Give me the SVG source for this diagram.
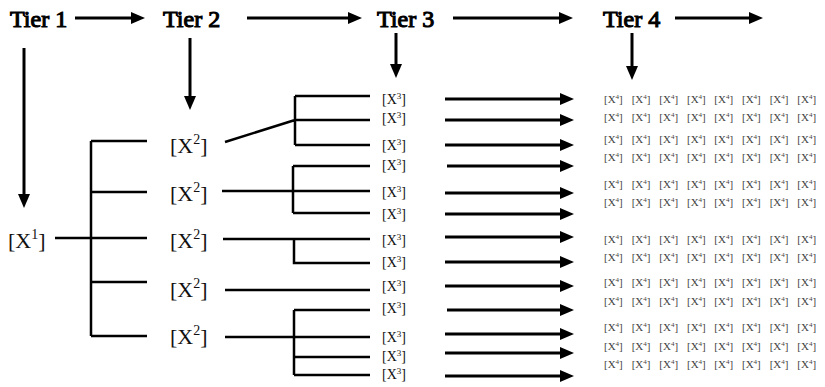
<svg xmlns="http://www.w3.org/2000/svg" width="825" height="387" viewBox="0 0 825 387">
<style>
.hd{font-family:"Liberation Serif","Times New Roman",serif;font-weight:normal;font-size:24px;fill:#000;stroke:#000;stroke-width:1.1}
.x1{font-family:"Liberation Serif","Times New Roman",serif;font-size:22px;fill:#111}
.x3{font-family:"Liberation Serif","Times New Roman",serif;font-size:14px;fill:#111}
.x4{font-family:"Liberation Serif","Times New Roman",serif;font-size:11px;fill:#444}
.ln{stroke:#000;stroke-width:2.5;fill:none}
.ar{stroke:#000;stroke-width:3;fill:none;marker-end:url(#ah)}
</style>
<defs>
<marker id="ah" markerWidth="14" markerHeight="12" viewBox="0 0 14 12" refX="1" refY="6" orient="auto" markerUnits="userSpaceOnUse"><path d="M0,0 L14,6 L0,12 z" fill="#000"/></marker>
</defs>
<rect width="825" height="387" fill="#fff"/>
<g id="headers">
<text class="hd" x="10" y="27">Tier 1</text>
<text class="hd" x="163" y="27">Tier 2</text>
<text class="hd" x="377" y="27">Tier 3</text>
<text class="hd" x="603" y="27">Tier 4</text>
</g>
<g id="connectors">
<line class="ar" x1="75" y1="18" x2="132" y2="18"/>
<line class="ar" x1="247" y1="18" x2="349" y2="18"/>
<line class="ar" x1="453" y1="18" x2="560" y2="18"/>
<line class="ar" x1="675" y1="18" x2="750" y2="18"/>
<line class="ar" x1="24" y1="48" x2="24" y2="195"/>
<line class="ar" x1="190" y1="38" x2="190" y2="97"/>
<line class="ar" x1="396" y1="33" x2="396" y2="65"/>
<line class="ar" x1="632" y1="33" x2="632" y2="67"/>
<path class="ln" d="M55,238 H91 M91,141 V336 M91,141 H147 M91,192 H147 M91,238 H147 M91,282 H147 M91,336 H147"/>
<path class="ln" d="M225,142 L295,120 M295,96 V145 M295,96 H370 M295,120 H370 M295,145 H370"/>
<path class="ln" d="M222,191 H370 M293,166 V213 M293,166 H370 M293,213 H370"/>
<path class="ln" d="M223,239 H370 M294,239 V263 H370"/>
<path class="ln" d="M225,290 H370"/>
<path class="ln" d="M225,337 H370 M294,310 V375 M294,310 H370 M294,357 H370 M294,375 H370"/>
<line class="ar" x1="445" y1="99" x2="561" y2="99"/>
<line class="ar" x1="445" y1="120" x2="561" y2="120"/>
<line class="ar" x1="445" y1="145" x2="561" y2="145"/>
<line class="ar" x1="447" y1="166" x2="561" y2="166"/>
<line class="ar" x1="445" y1="193" x2="561" y2="193"/>
<line class="ar" x1="445" y1="214" x2="561" y2="214"/>
<line class="ar" x1="445" y1="237" x2="561" y2="237"/>
<line class="ar" x1="445" y1="262" x2="561" y2="262"/>
<line class="ar" x1="445" y1="286" x2="561" y2="286"/>
<line class="ar" x1="447" y1="310" x2="561" y2="310"/>
<line class="ar" x1="445" y1="334" x2="561" y2="334"/>
<line class="ar" x1="445" y1="353" x2="561" y2="353"/>
<line class="ar" x1="445" y1="376" x2="561" y2="376"/>
</g>
<g id="tier1"><text class="x1" x="8" y="248">[X<tspan dy="-9" font-size="14">1</tspan><tspan dy="9">]</tspan></text></g>
<g id="tier2">
<text class="x1" x="170" y="153">[X<tspan dy="-9" font-size="14">2</tspan><tspan dy="9">]</tspan></text>
<text class="x1" x="170" y="201">[X<tspan dy="-9" font-size="14">2</tspan><tspan dy="9">]</tspan></text>
<text class="x1" x="170" y="248">[X<tspan dy="-9" font-size="14">2</tspan><tspan dy="9">]</tspan></text>
<text class="x1" x="170" y="297">[X<tspan dy="-9" font-size="14">2</tspan><tspan dy="9">]</tspan></text>
<text class="x1" x="170" y="344">[X<tspan dy="-9" font-size="14">2</tspan><tspan dy="9">]</tspan></text>
</g>
<g id="tier3">
<text class="x3" x="382" y="104">[X<tspan dy="-5" font-size="9">3</tspan><tspan dy="5">]</tspan></text>
<text class="x3" x="382" y="123">[X<tspan dy="-5" font-size="9">3</tspan><tspan dy="5">]</tspan></text>
<text class="x3" x="382" y="150">[X<tspan dy="-5" font-size="9">3</tspan><tspan dy="5">]</tspan></text>
<text class="x3" x="382" y="170">[X<tspan dy="-5" font-size="9">3</tspan><tspan dy="5">]</tspan></text>
<text class="x3" x="382" y="197">[X<tspan dy="-5" font-size="9">3</tspan><tspan dy="5">]</tspan></text>
<text class="x3" x="382" y="219">[X<tspan dy="-5" font-size="9">3</tspan><tspan dy="5">]</tspan></text>
<text class="x3" x="382" y="245">[X<tspan dy="-5" font-size="9">3</tspan><tspan dy="5">]</tspan></text>
<text class="x3" x="382" y="267">[X<tspan dy="-5" font-size="9">3</tspan><tspan dy="5">]</tspan></text>
<text class="x3" x="382" y="291">[X<tspan dy="-5" font-size="9">3</tspan><tspan dy="5">]</tspan></text>
<text class="x3" x="382" y="313">[X<tspan dy="-5" font-size="9">3</tspan><tspan dy="5">]</tspan></text>
<text class="x3" x="382" y="342">[X<tspan dy="-5" font-size="9">3</tspan><tspan dy="5">]</tspan></text>
<text class="x3" x="382" y="361">[X<tspan dy="-5" font-size="9">3</tspan><tspan dy="5">]</tspan></text>
<text class="x3" x="382" y="379">[X<tspan dy="-5" font-size="9">3</tspan><tspan dy="5">]</tspan></text>
</g>
<g id="tier4">
<defs>
<g id="r4">
<text class="x4" x="604" y="0">[X<tspan dy="-4" font-size="7">4</tspan><tspan dy="4">]</tspan></text>
<text class="x4" x="631.7" y="0">[X<tspan dy="-4" font-size="7">4</tspan><tspan dy="4">]</tspan></text>
<text class="x4" x="659.3" y="0">[X<tspan dy="-4" font-size="7">4</tspan><tspan dy="4">]</tspan></text>
<text class="x4" x="687" y="0">[X<tspan dy="-4" font-size="7">4</tspan><tspan dy="4">]</tspan></text>
<text class="x4" x="714.3" y="0">[X<tspan dy="-4" font-size="7">4</tspan><tspan dy="4">]</tspan></text>
<text class="x4" x="742" y="0">[X<tspan dy="-4" font-size="7">4</tspan><tspan dy="4">]</tspan></text>
<text class="x4" x="769.7" y="0">[X<tspan dy="-4" font-size="7">4</tspan><tspan dy="4">]</tspan></text>
<text class="x4" x="797.3" y="0">[X<tspan dy="-4" font-size="7">4</tspan><tspan dy="4">]</tspan></text>
</g>
</defs>
<use href="#r4" y="103"/>
<use href="#r4" y="121"/>
<use href="#r4" y="143"/>
<use href="#r4" y="161"/>
<use href="#r4" y="188"/>
<use href="#r4" y="206"/>
<use href="#r4" y="243"/>
<use href="#r4" y="261"/>
<use href="#r4" y="286"/>
<use href="#r4" y="305"/>
<use href="#r4" y="331"/>
<use href="#r4" y="350"/>
<use href="#r4" y="368"/>
</g>
</svg>
